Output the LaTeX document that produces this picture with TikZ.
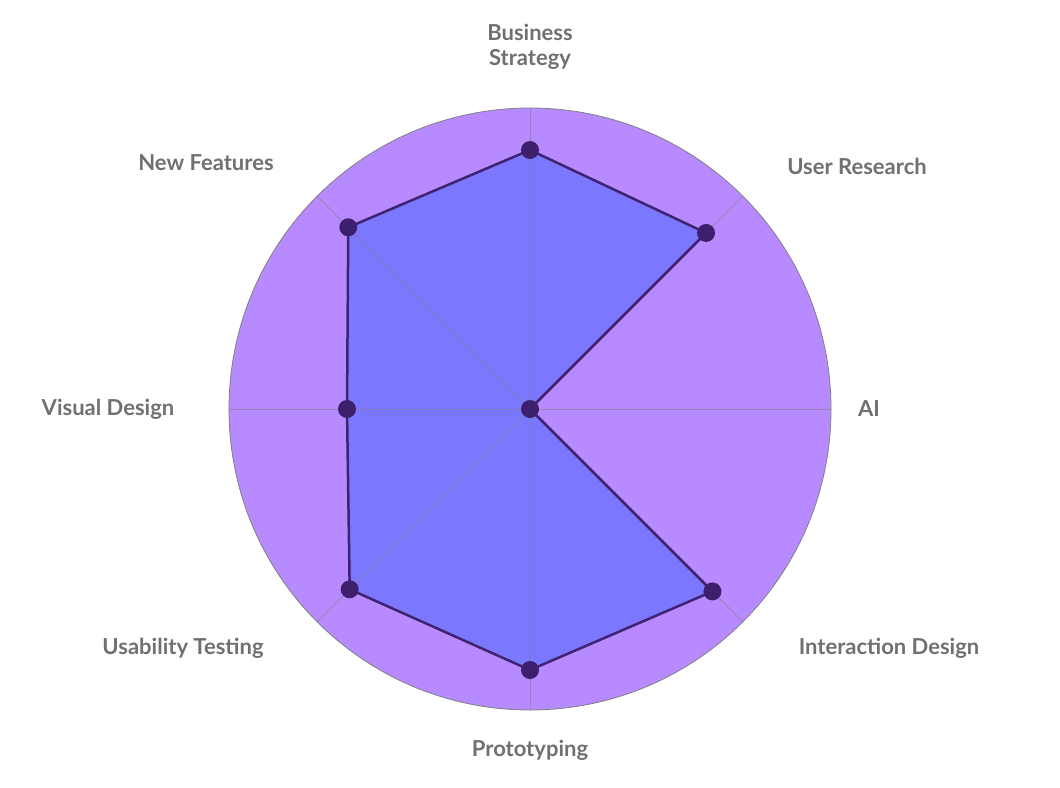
\documentclass[tikz,border=0pt]{standalone}
\usepackage{fontspec}
\setmainfont{Lato}
\begin{document}
\begin{tikzpicture}[x=1pt,y=-1pt,
  lbl/.style={text=black!56, font=\fontsize{22}{25}\selectfont\bfseries, align=center, inner sep=0},
  dot/.style={circle, fill=dotc, minimum size=18pt, inner sep=0},
  spoke/.style={draw=black!50, line width=0.8pt}]
\definecolor{bgc}{HTML}{B88AFF}
\definecolor{polyc}{HTML}{7B78FF}
\definecolor{linec}{HTML}{3F2370}
\definecolor{dotc}{HTML}{3D1F6B}
\useasboundingbox (0,0) rectangle (1060,787);
\coordinate (c) at (530,409);
\fill[bgc, draw=black!50, line width=0.8pt] (c) circle (301);
\path (c) ++(90:259) coordinate (p1)
      (c) ++(45:249) coordinate (p2)
      (c) coordinate (p3)
      (c) ++(-45:258) coordinate (p4)
      (c) ++(-90:261) coordinate (p5)
      (c) ++(-135:255) coordinate (p6)
      (c) ++(180:183) coordinate (p7)
      (c) ++(135:257) coordinate (p8);
\path[y=1pt] (c) ++(90:259) coordinate (p1)
      (c) ++(45:249) coordinate (p2)
      (c) ++(-45:258) coordinate (p4)
      (c) ++(-90:261) coordinate (p5)
      (c) ++(-135:255) coordinate (p6)
      (c) ++(135:257) coordinate (p8);
\fill[polyc] (p1) -- (p2) -- (p3) -- (p4) -- (p5) -- (p6) -- (p7) -- (p8) -- cycle;
\foreach \a in {0,45,...,315} \draw[spoke, opacity=0.6] (c) -- ++(\a:301);
\draw[linec, line width=2.5pt, line join=round] (p1) -- (p2) -- (p3) -- (p4) -- (p5) -- (p6) -- (p7) -- (p8) -- cycle;
\foreach \i in {1,...,8} \node[dot] (d\i) at (p\i) {};
\node[lbl] (l1) at (530,47) {Business\\Strategy};
\node[lbl] (l2) at (857,166) {User Research};
\node[lbl] (l3) at (869,409) {AI};
\node[lbl] (l4) at (889,648) {Interaction Design};
\node[lbl] (l5) at (530,750) {Prototyping};
\node[lbl] (l6) at (183,648) {Usability Testing};
\node[lbl] (l7) at (108,409) {Visual Design};
\node[lbl] (l8) at (206,163) {New Features};
\end{tikzpicture}
\end{document}
